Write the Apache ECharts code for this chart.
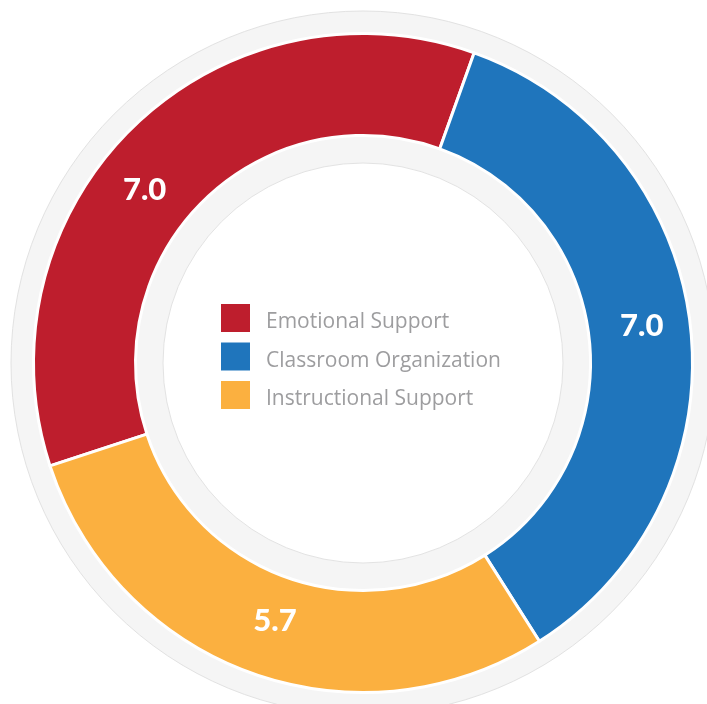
<!DOCTYPE html>
<html>
<head>
<meta charset="utf-8">
<script src="https://cdn.jsdelivr.net/npm/echarts@6/dist/echarts.min.js"></script>
<style>
  html, body { margin: 0; padding: 0; background: #ffffff; }
  #chart { width: 707px; height: 704px; }
</style>
</head>
<body>
<div id="chart"></div>
<script>
// Domain scores shown in the ring
const categories = ['Emotional Support', 'Classroom Organization', 'Instructional Support'];
const scores = [7.0, 7.0, 5.7];
const colors = ['#be1e2d', '#1f75bc', '#fbb040'];

// Per-segment nudges for the value labels, in pixels [dx, dy]
const labelNudge = [
  [-22, 29],
  [-1, -6],
  [7, -7]
];

const center = [363, 363];

const chart = echarts.init(document.getElementById('chart'), null, { renderer: 'canvas' });

chart.setOption({
  animation: false,
  backgroundColor: '#ffffff',
  legend: {
    data: categories,
    orient: 'vertical',
    left: 219,
    top: 302,
    padding: 0,
    icon: 'rect',
    itemWidth: 31,
    itemHeight: 30,
    itemGap: 6.5,
    selectedMode: false,
    formatter: name => '{t|' + name + '}',
    textStyle: {
      fontFamily: 'Open Sans',
      fontSize: 21,
      color: '#9d9d9f',
      padding: [0, 0, 0, 10],
      rich: {
        t: {
          fontFamily: 'Open Sans',
          fontSize: 21,
          color: '#9d9d9f',
          lineHeight: 24,
          padding: [9, 0, 0, 0]
        }
      }
    }
  },
  series: [
    {
      // light grey backdrop disc behind the ring
      type: 'pie',
      center: center,
      radius: [0, 352],
      silent: true,
      z: 1,
      label: { show: false },
      labelLine: { show: false },
      itemStyle: { color: '#f5f5f5', borderColor: '#e2e2e2', borderWidth: 1 },
      data: [{ name: 'backdrop', value: 1 }]
    },
    {
      type: 'pie',
      center: center,
      radius: [227.5, 329.5],
      startAngle: 198.2,
      clockwise: true,
      silent: true,
      z: 3,
      itemStyle: { borderColor: '#ffffff', borderWidth: 3 },
      label: {
        show: true,
        position: 'inside',
        fontFamily: 'Lato',
        fontWeight: 900,
        fontSize: 31,
        color: '#ffffff',
        formatter: p => p.value.toFixed(1)
      },
      labelLayout: p => ({ dx: labelNudge[p.dataIndex][0], dy: labelNudge[p.dataIndex][1] }),
      labelLine: { show: false },
      data: categories.map((name, i) => ({
        name: name,
        value: scores[i],
        itemStyle: { color: colors[i] }
      }))
    },
    {
      // white inner face holding the legend
      type: 'pie',
      center: center,
      radius: [0, 200],
      silent: true,
      z: 2,
      label: { show: false },
      labelLine: { show: false },
      itemStyle: { color: '#ffffff', borderColor: '#e3e3e3', borderWidth: 1 },
      data: [{ name: 'face', value: 1 }]
    }
  ]
});
</script>
</body>
</html>
